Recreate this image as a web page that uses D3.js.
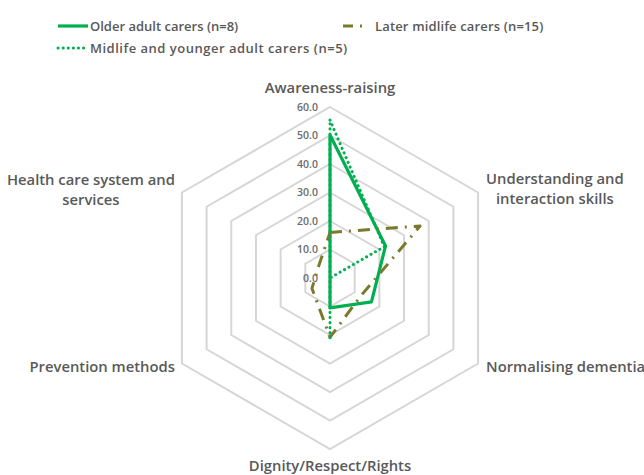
<!DOCTYPE html>
<html>
<head>
<meta charset="utf-8">
<script src="https://cdn.jsdelivr.net/npm/d3@7"></script>
<style>
  html, body { margin: 0; padding: 0; background: #fff; }
  svg { display: block; }
  text { font-family: "Open Sans", Lato, sans-serif; }
</style>
</head>
<body>
<svg id="chart" width="644" height="475"></svg>
<script>
// ---- data ----
const categories = [
  "Awareness-raising",
  "Understanding and interaction skills",
  "Normalising dementia",
  "Dignity/Respect/Rights",
  "Prevention methods",
  "Health care system and services"
];
const categoryLines = [
  ["Awareness-raising"],
  ["Understanding and", "interaction skills"],
  ["Normalising dementia"],
  ["Dignity/Respect/Rights"],
  ["Prevention methods"],
  ["Health care system and", "services"]
];
const olderValues   = [50.2, 22.5, 16.8, 10.5, 0, 0];
const laterValues   = [16.0, 36.5, 12.5, 20.8, 7.3, 5.2];
const midlifeValues = [55.4, 22.0, 0, 21.0, 0, 0];
const tickValues = [0, 10, 20, 30, 40, 50, 60];
const tickLabels = ["0.0", "10.0", "20.0", "30.0", "40.0", "50.0", "60.0"];
const seriesNames = ["Older adult carers (n=8)", "Later midlife carers (n=15)", "Midlife and younger adult carers (n=5)"];

// ---- layout / style ----
const cx = 330, cy = 278, R = 171;
const green = "#00b050", olive = "#7a7a2c";
const styles = [
  { color: green, width: 3.2, dash: null, cap: "butt" },
  { color: olive, width: 3, dash: "12 7 2 7", cap: "butt" },
  { color: green, width: 3, dash: "0.1 5", cap: "round" }
];
const seriesValues = [olderValues, laterValues, midlifeValues];

const svg = d3.select("#chart");
const r = d3.scaleLinear().domain([0, 60]).range([0, R]);
const ang = i => i * 2 * Math.PI / categories.length;
const g = svg.append("g").attr("transform", `translate(${cx},${cy})`);

// grid hexagons
const gridLine = d3.lineRadial().angle((d, i) => ang(i)).radius(d => r(d)).curve(d3.curveLinearClosed);
tickValues.filter(v => v > 0).forEach(v => {
  g.append("path")
    .attr("d", gridLine(categories.map(() => v)))
    .attr("fill", "none")
    .attr("stroke", "#d6d6d6")
    .attr("stroke-width", 2);
});

// tick labels
g.selectAll("text.tick").data(tickValues).enter().append("text")
  .attr("class", "tick")
  .attr("x", -12)
  .attr("y", d => -r(d))
  .attr("dy", "0.35em")
  .attr("text-anchor", "end")
  .attr("font-size", 10.5)
  .attr("font-weight", 600)
  .attr("fill", "#6b6b6b")
  .text((d, i) => tickLabels[i]);

// series
const seriesLine = d3.lineRadial().angle((d, i) => ang(i)).radius(d => r(d)).curve(d3.curveLinearClosed);
seriesValues.forEach((vals, k) => {
  const s = styles[k];
  g.append("path")
    .attr("d", seriesLine(vals))
    .attr("fill", "none")
    .attr("stroke", s.color)
    .attr("stroke-width", s.width)
    .attr("stroke-linejoin", "round")
    .attr("stroke-linecap", s.cap)
    .attr("stroke-dasharray", s.dash);
});

// category labels
const fs = 14.8, lh = 20;
categoryLines.forEach((lines, i) => {
  const a = ang(i);
  const vx = r(60) * Math.sin(a), vy = -r(60) * Math.cos(a);
  const lab = g.append("g");
  const texts = lines.map((t, j) => lab.append("text")
    .attr("font-size", fs).attr("font-weight", 600).attr("fill", "#595959")
    .attr("text-anchor", "middle").attr("dy", "0.35em")
    .attr("y", (j - (lines.length - 1) / 2) * lh)
    .text(t));
  const w = d3.max(texts, t => t.node().getComputedTextLength());
  let bx, by;
  if (Math.abs(Math.sin(a)) < 0.1) {
    bx = vx;
    by = vy < 0 ? vy - 19 : vy + 17;
  } else if (Math.sin(a) > 0) {
    bx = vx + 8 + w / 2;
    by = vy + (vy < 0 ? -4 : 3);
  } else {
    bx = vx - 7 - w / 2;
    by = vy + (vy < 0 ? -3 : 3);
  }
  lab.attr("transform", `translate(${bx},${by})`);
});

// legend
const legendPos = [
  { x: 58, y: 26, ls: 0 },
  { x: 343, y: 26, ls: 0.15 },
  { x: 58, y: 48, ls: 0.5 }
];
seriesNames.forEach((name, k) => {
  const s = styles[k], p = legendPos[k];
  svg.append("line")
    .attr("x1", p.x).attr("x2", p.x + 30).attr("y1", p.y).attr("y2", p.y)
    .attr("stroke", s.color).attr("stroke-width", s.width)
    .attr("stroke-linecap", s.cap)
    .attr("stroke-dasharray", k === 1 ? "10 7 2 20" : s.dash);
  svg.append("text")
    .attr("x", p.x + 32).attr("y", p.y).attr("dy", "0.35em")
    .attr("font-size", 13).attr("font-weight", 600).attr("fill", "#595959")
    .attr("letter-spacing", p.ls)
    .text(name);
});
</script>
</body>
</html>
